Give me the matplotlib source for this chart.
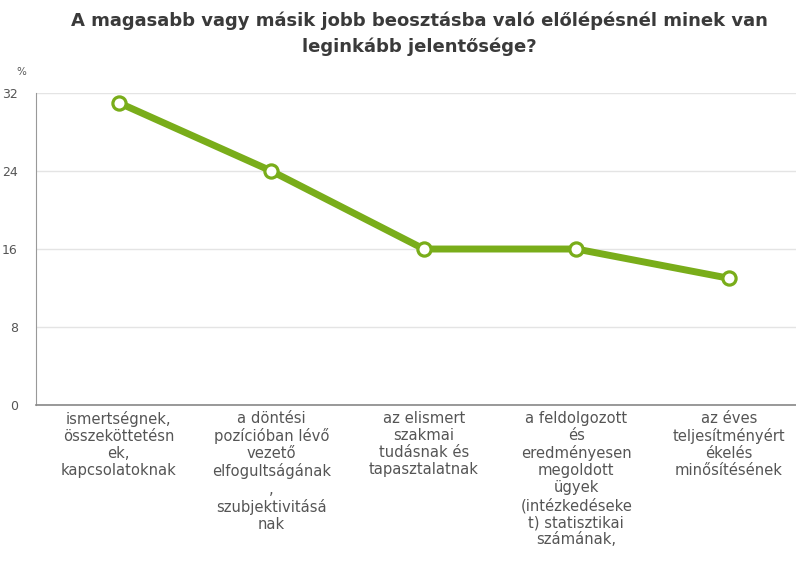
import numpy as np
import matplotlib.pyplot as plt

# adatok
categories = [
    "ismertségnek,\nösszeköttetésn\nek,\nkapcsolatoknak",
    "a döntési\npozícióban lévő\nvezető\nelfogultságának\n,\nszubjektivitásá\nnak",
    "az elismert\nszakmai\ntudásnak és\ntapasztalatnak",
    "a feldolgozott\nés\neredményesen\nmegoldott\nügyek\n(intézkedéseke\nt) statisztikai\nszámának,",
    "az éves\nteljesítményért\nékelés\nminősítésének",
]
values = [31, 24, 16, 16, 13]
yticks = [0, 8, 16, 24, 32]

green = '#79ad1a'
grey = '#555555'

fig = plt.figure(figsize=(7.96, 5.63), dpi=100)
ax = fig.add_axes([0.045, 0.2806, 0.955, 0.5542])

x = np.arange(len(values))
ax.plot(x, values, color=green, lw=5, solid_capstyle='round', zorder=3)
ax.plot(x, values, 'o', ms=9.5, mfc='white', mec=green, mew=2.3, zorder=4)

ax.set_xlim(-0.544, 4.44)
ax.set_ylim(0, 32)
ax.set_yticks(yticks)
ax.set_yticklabels([str(v) for v in yticks], color=grey, fontsize=9)
ax.yaxis.grid(True, color='#e4e4e4', lw=1)
ax.set_axisbelow(True)
ax.tick_params(axis='y', length=0, pad=13)
ax.tick_params(axis='x', length=0, pad=4)
ax.set_xticks(x)
ax.set_xticklabels(categories, color=grey, fontsize=10.6, linespacing=1.18, va='top')

for s in ['top', 'right']:
    ax.spines[s].set_visible(False)
ax.spines['left'].set_color('#999999')
ax.spines['bottom'].set_color('#888888')
ax.spines['bottom'].set_linewidth(1.2)

fig.text(0.021, 0.866, '%', color=grey, fontsize=7.5)
fig.text(0.527, 0.98, 'A magasabb vagy másik jobb beosztásba való előlépésnél minek van\nleginkább jelentősége?',
         ha='center', va='top', fontsize=13, fontweight='bold', color='#3a3a3a', linespacing=1.55)

fig.savefig('out.png', dpi=100)
